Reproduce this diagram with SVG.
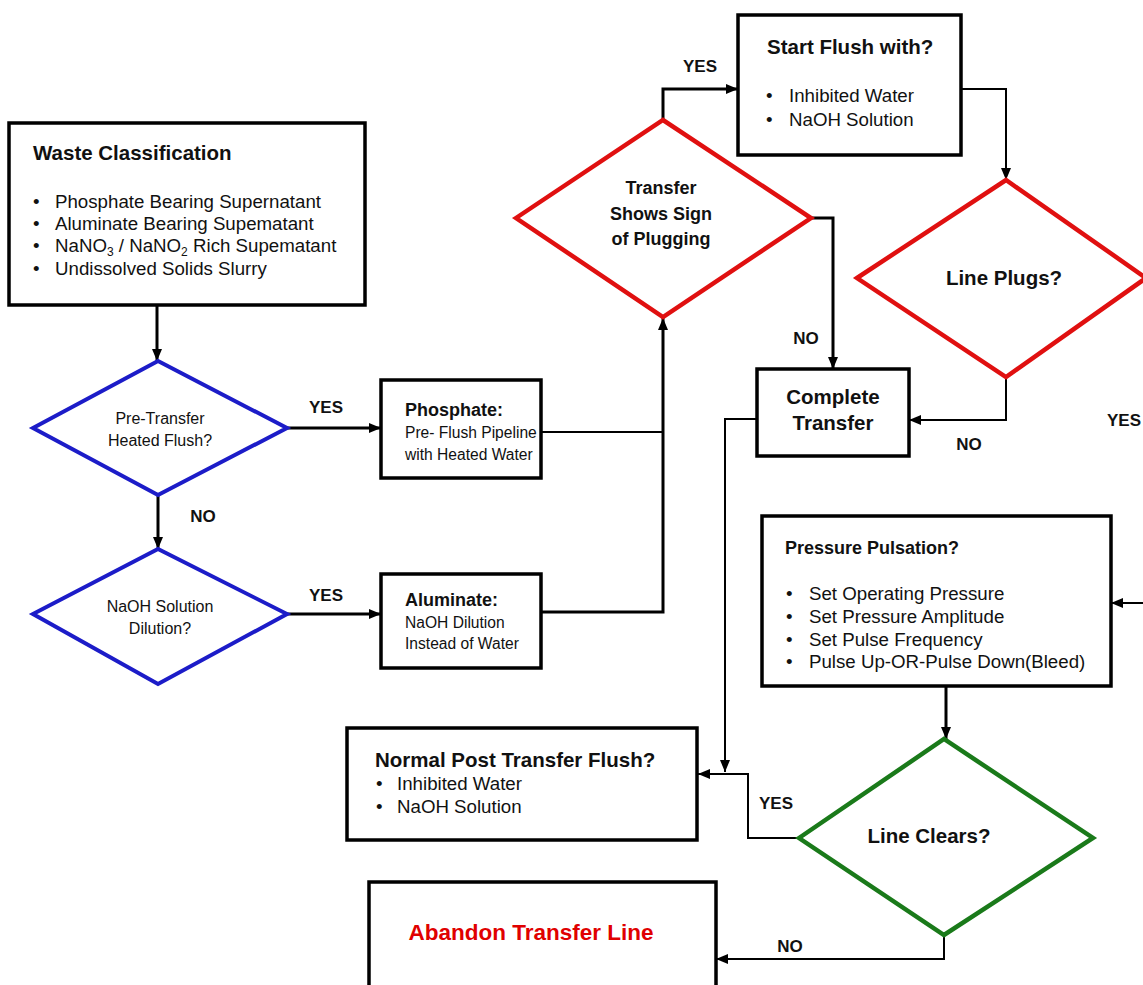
<svg xmlns="http://www.w3.org/2000/svg" width="1143" height="985" viewBox="0 0 1143 985">
  <defs>
    <marker id="ah" viewBox="0 0 12 10" refX="12" refY="5" markerWidth="12" markerHeight="10" orient="auto" markerUnits="userSpaceOnUse">
      <path d="M0,0 L12,5 L0,10 z" fill="#000"/>
    </marker>
    <style>
      text { font-family: "Liberation Sans", Arial, sans-serif; fill: #111; }
      .box { fill: #fff; stroke: #000; stroke-width: 3.5; }
      .dia-blue { fill: #fff; stroke: #1c1cc8; stroke-width: 4; stroke-linejoin: miter; }
      .dia-red { fill: #fff; stroke: #e01010; stroke-width: 4.5; stroke-linejoin: miter; }
      .dia-green { fill: #fff; stroke: #1a7a1a; stroke-width: 4.5; stroke-linejoin: miter; }
      .ttl { font-weight: bold; font-size: 20.5px; }
      .ttl-s { font-weight: bold; font-size: 18px; }
      .item { font-size: 18.7px; }
      .step { font-size: 15.6px; }
      .small { font-size: 16px; }
      .lbl { font-weight: bold; font-size: 17px; }
      .mid { text-anchor: middle; }
      .wire { fill: none; stroke: #000; stroke-width: 2; }
      .wire-b { fill: none; stroke: #000; stroke-width: 3; }
    </style>
  </defs>

  <rect width="1143" height="985" fill="#fff"/>

  <!-- connectors -->
  <g id="connectors">
    <path class="wire-b" d="M157,305 V361" marker-end="url(#ah)"/>
    <path class="wire-b" d="M287,428 H381" marker-end="url(#ah)"/>
    <path class="wire-b" d="M158,495 V549" marker-end="url(#ah)"/>
    <path class="wire-b" d="M287,614 H381" marker-end="url(#ah)"/>
    <path class="wire" d="M541,432 H663"/>
    <path class="wire-b" d="M541,612 H663 V318" marker-end="url(#ah)"/>
    <path class="wire-b" d="M663,120 V89 H738" marker-end="url(#ah)"/>
    <path class="wire" d="M961,89 H1006 V180" marker-end="url(#ah)"/>
    <path class="wire-b" d="M811,218 H833 V369" marker-end="url(#ah)"/>
    <path class="wire" d="M1006,378 V420 H909" marker-end="url(#ah)"/>
    <path class="wire" d="M1143,603 H1111" marker-end="url(#ah)"/>
    <path class="wire" d="M757,419 H725 V772" marker-end="url(#ah)"/>
    <path class="wire-b" d="M946,686 V739" marker-end="url(#ah)"/>
    <path class="wire" d="M799,838 H748 V774 H698" marker-end="url(#ah)"/>
    <path class="wire" d="M944,936 V959 H716" marker-end="url(#ah)"/>

    <text class="lbl mid" x="326" y="413">YES</text>
    <text class="lbl mid" x="203" y="522">NO</text>
    <text class="lbl mid" x="326" y="601">YES</text>
    <text class="lbl mid" x="700" y="72">YES</text>
    <text class="lbl mid" x="806" y="344">NO</text>
    <text class="lbl mid" x="969" y="450">NO</text>
    <text class="lbl mid" x="1124" y="426">YES</text>
    <text class="lbl mid" x="776" y="809">YES</text>
    <text class="lbl mid" x="790" y="952">NO</text>
  </g>

  <!-- waste classification -->
  <g id="waste-classification">
    <rect class="box" x="9" y="123" width="356" height="182"/>
    <text class="ttl" x="33" y="160" font-size="21">Waste Classification</text>
    <g class="item">
      <text x="33" y="208">•</text><text x="55" y="208">Phosphate Bearing Supernatant</text>
      <text x="33" y="230">•</text><text x="55" y="230">Aluminate Bearing Supematant</text>
      <text x="33" y="252">•</text><text x="55" y="252">NaNO<tspan font-size="12" dy="4">3</tspan><tspan dy="-4"> / NaNO</tspan><tspan font-size="12" dy="4">2</tspan><tspan dy="-4"> Rich Supematant</tspan></text>
      <text x="33" y="275">•</text><text x="55" y="275">Undissolved Solids Slurry</text>
    </g>
  </g>

  <!-- pre-transfer heated flush decision -->
  <g id="pre-transfer-flush">
    <polygon class="dia-blue" points="33,428 158,361 287,428 158,495"/>
    <text class="small mid" x="160" y="424">Pre-Transfer</text>
    <text class="small mid" x="160" y="446">Heated Flush?</text>
  </g>

  <!-- phosphate pre-flush -->
  <g id="phosphate">
    <rect class="box" x="381" y="380" width="160" height="98"/>
    <text class="ttl-s" x="405" y="416">Phosphate:</text>
    <text class="step" x="405" y="438">Pre- Flush Pipeline</text>
    <text class="step" x="405" y="460">with Heated Water</text>
  </g>

  <!-- NaOH dilution decision -->
  <g id="naoh-dilution">
    <polygon class="dia-blue" points="33,614 158,549 287,614 158,684"/>
    <text class="small mid" x="160" y="612">NaOH Solution</text>
    <text class="small mid" x="160" y="634">Dilution?</text>
  </g>

  <!-- aluminate -->
  <g id="aluminate">
    <rect class="box" x="381" y="574" width="160" height="94"/>
    <text class="ttl-s" x="405" y="606">Aluminate:</text>
    <text class="step" x="405" y="628">NaOH Dilution</text>
    <text class="step" x="405" y="649">Instead of Water</text>
  </g>

  <!-- transfer plugging decision -->
  <g id="transfer-plugging">
    <polygon class="dia-red" points="516,218 663,120 811,218 663,317"/>
    <text class="ttl-s mid" x="661" y="194">Transfer</text>
    <text class="ttl-s mid" x="661" y="220">Shows Sign</text>
    <text class="ttl-s mid" x="661" y="245">of Plugging</text>
  </g>

  <!-- start flush -->
  <g id="start-flush">
    <rect class="box" x="738" y="15" width="223" height="140"/>
    <text class="ttl" x="767" y="54" font-size="21">Start Flush with?</text>
    <g class="item">
      <text x="766" y="102">•</text><text x="789" y="102">Inhibited Water</text>
      <text x="766" y="126">•</text><text x="789" y="126">NaOH Solution</text>
    </g>
  </g>

  <!-- line plugs decision -->
  <g id="line-plugs">
    <polygon class="dia-red" points="857,278 1006,180 1146,278 1006,377"/>
    <text class="ttl mid" x="1004" y="285">Line Plugs?</text>
  </g>

  <!-- complete transfer -->
  <g id="complete-transfer">
    <rect class="box" x="757" y="369" width="152" height="87"/>
    <text class="ttl mid" x="833" y="404">Complete</text>
    <text class="ttl mid" x="833" y="430">Transfer</text>
  </g>

  <!-- pressure pulsation -->
  <g id="pressure-pulsation">
    <rect class="box" x="762" y="516" width="349" height="170"/>
    <text class="ttl-s" x="785" y="554">Pressure Pulsation?</text>
    <g class="item">
      <text x="786" y="600">•</text><text x="809" y="600">Set Operating Pressure</text>
      <text x="786" y="623">•</text><text x="809" y="623">Set Pressure Amplitude</text>
      <text x="786" y="646">•</text><text x="809" y="646">Set Pulse Frequency</text>
      <text x="786" y="668">•</text><text x="809" y="668">Pulse Up-OR-Pulse Down(Bleed)</text>
    </g>
  </g>

  <!-- normal post transfer flush -->
  <g id="post-transfer-flush">
    <rect class="box" x="347" y="728" width="350" height="112"/>
    <text class="ttl" x="375" y="767" font-size="21">Normal Post Transfer Flush?</text>
    <g class="item">
      <text x="376" y="790">•</text><text x="397" y="790">Inhibited Water</text>
      <text x="376" y="813">•</text><text x="397" y="813">NaOH Solution</text>
    </g>
  </g>

  <!-- line clears decision -->
  <g id="line-clears">
    <polygon class="dia-green" points="799,838 944,739 1093,838 944,935"/>
    <text class="ttl mid" x="929" y="843" font-size="22">Line Clears?</text>
  </g>

  <!-- abandon -->
  <g id="abandon">
    <rect class="box" x="369" y="882" width="347" height="120"/>
    <text class="mid" x="531" y="940" font-size="22.5" font-weight="bold" style="fill:#e00000">Abandon Transfer Line</text>
  </g>
</svg>
